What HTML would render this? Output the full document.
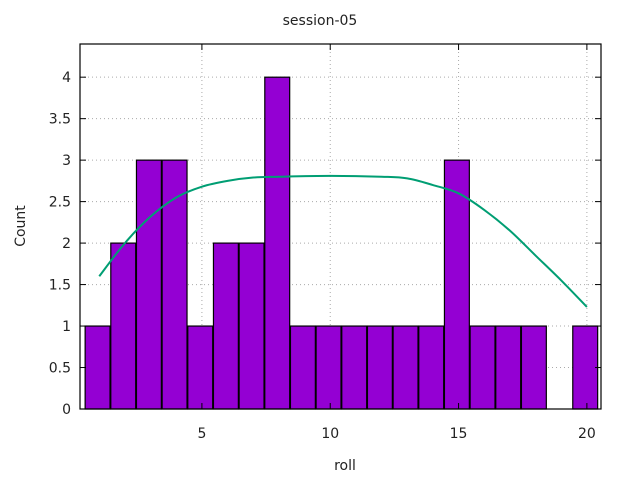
<!DOCTYPE html>
<html><head><meta charset="utf-8"><style>
body{margin:0;background:#fff;}
svg text{font-family:"DejaVu Sans","Liberation Sans",sans-serif;font-size:14px;fill:#222;}
</style></head><body>
<svg id="c" width="640" height="480">
<text x="320" y="25" text-anchor="middle">session-05</text>
<text x="345" y="470" text-anchor="middle">roll</text>
<text transform="translate(25,226) rotate(-90)" text-anchor="middle">Count</text>
<g id="grid"></g><g id="bars"></g><g id="curve"></g><g id="axes"></g>
</svg>
<script>
const categories=[1,2,3,4,5,6,7,8,9,10,11,12,13,14,15,16,17,18,19,20];
const counts=[1,2,3,3,1,2,2,4,1,1,1,1,1,1,3,1,1,1,0,1];
const curveX=[1,2,3,4,5,6,7,8,10,12,13,14,15,16,17,18,19,20];
const curveY=[1.6,2.0,2.32,2.55,2.68,2.75,2.79,2.8,2.81,2.8,2.78,2.7,2.6,2.4,2.15,1.85,1.55,1.23];
const xTicks=[5,10,15,20];
const yTicks=[0,0.5,1,1.5,2,2.5,3,3.5,4];
const yLabels=["0","0.5","1","1.5","2","2.5","3","3.5","4"];
const L=80,R=601,T=44,B=409,XMIN=0.25,XMAX=20.55,YMAX=4.4;
const xs=v=>L+(v-XMIN)/(XMAX-XMIN)*(R-L);
const ys=v=>B-v/YMAX*(B-T);
const NS="http://www.w3.org/2000/svg";
function mk(t,a,p){const e=document.createElementNS(NS,t);for(const k in a)e.setAttribute(k,a[k]);document.getElementById(p).appendChild(e);return e;}
yTicks.forEach((v,i)=>{
 if(v>0){const g=mk('line',{x1:L,x2:R,y1:ys(v),y2:ys(v),stroke:'#aaa','stroke-dasharray':'1,3'},'grid');
 
 }
 const t=mk('text',{x:L-9,y:ys(v)+5,'text-anchor':'end'},'axes');t.textContent=yLabels[i];
 
 
 mk('line',{x1:L,x2:L+6,y1:ys(v),y2:ys(v),stroke:'#000'},'axes');
 mk('line',{x1:R,x2:R-6,y1:ys(v),y2:ys(v),stroke:'#000'},'axes');
});
xTicks.forEach(v=>{
 const g=mk('line',{x1:xs(v),x2:xs(v),y1:T,y2:B,stroke:'#aaa','stroke-dasharray':'1,3'},'grid');
 
 
 const t=mk('text',{x:xs(v),y:B+29,'text-anchor':'middle'},'axes');t.textContent=v;
 
 
 mk('line',{x1:xs(v),x2:xs(v),y1:B,y2:B-6,stroke:'#000'},'axes');
 mk('line',{x1:xs(v),x2:xs(v),y1:T,y2:T+6,stroke:'#000'},'axes');
});
categories.forEach((c,i)=>{
 if(counts[i]<=0)return;
 const x0=xs(c-0.55),x1=xs(c+0.42);
 const b=mk('rect',{x:x0,y:ys(counts[i]),width:x1-x0,height:B-ys(counts[i]),fill:'#9400d3',stroke:'#000','stroke-width':1.2},'bars');
 
 
});
const P=curveX.map((x,i)=>[xs(x),ys(curveY[i])]);
let d='M'+P[0][0]+','+P[0][1];
for(let i=0;i<P.length-1;i++){
 const p0=P[Math.max(0,i-1)],p1=P[i],p2=P[i+1],p3=P[Math.min(P.length-1,i+2)];
 d+='C'+(p1[0]+(p2[0]-p0[0])/6)+','+(p1[1]+(p2[1]-p0[1])/6)+' '+(p2[0]-(p3[0]-p1[0])/6)+','+(p2[1]-(p3[1]-p1[1])/6)+' '+p2[0]+','+p2[1];
}
const p=mk('path',{d:d,fill:'none',stroke:'#009e73','stroke-width':2},'curve');


const f=mk('rect',{x:L,y:T,width:R-L,height:B-T,fill:'none',stroke:'#000','stroke-width':1.2},'axes');


</script>
</body></html>
